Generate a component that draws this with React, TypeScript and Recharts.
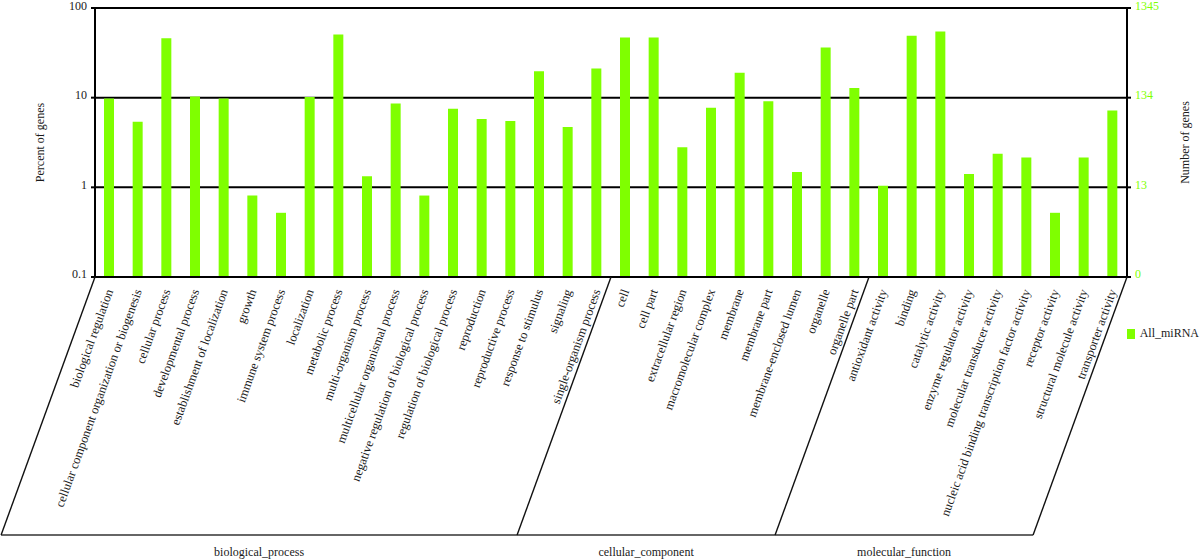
import React from 'react';
import { BarChart, Bar, XAxis, YAxis, CartesianGrid, Legend } from 'recharts';

const categories = [
  'biological regulation',
  'cellular component organization or biogenesis',
  'cellular process',
  'developmental process',
  'establishment of localization',
  'growth',
  'immune system process',
  'localization',
  'metabolic process',
  'multi-organism process',
  'multicellular organismal process',
  'negative regulation of biological process',
  'regulation of biological process',
  'reproduction',
  'reproductive process',
  'response to stimulus',
  'signaling',
  'single-organism process',
  'cell',
  'cell part',
  'extracellular region',
  'macromolecular complex',
  'membrane',
  'membrane part',
  'membrane-enclosed lumen',
  'organelle',
  'organelle part',
  'antioxidant activity',
  'binding',
  'catalytic activity',
  'enzyme regulator activity',
  'molecular transducer activity',
  'nucleic acid binding transcription factor activity',
  'receptor activity',
  'structural molecule activity',
  'transporter activity',
];

const percentValues = [
  9.8, 5.4, 46, 10.3, 9.8, 0.81, 0.52, 10.2, 50.6, 1.33, 8.6, 0.81, 7.5, 5.8, 5.5, 19.7, 4.7, 21.1,
  46.8, 46.8, 2.8, 7.7, 19.0, 9.1, 1.48, 36.2, 12.8,
  1.04, 48.9, 54.6, 1.41, 2.37, 2.15, 0.52, 2.15, 7.2,
];

const groupNames = ['biological_process', 'cellular_component', 'molecular_function'];
const groupSizes = [18, 9, 9];

const leftTicks = [0.1, 1, 10, 100];
const leftTickLabels = ['0.1', '1', '10', '100'];
const rightTickLabels = ['0', '13', '134', '1345'];

const seriesName = 'All_miRNA';
const leftTitle = 'Percent of genes';
const rightTitle = 'Number of genes';

const GREEN = '#7FFF00';
const FONT = "'Liberation Serif', 'Times New Roman', serif";
const TEXT = '#1a1a1a';

const data = categories.map((name, i) => ({ name, pct: percentValues[i] }));

const groupStarts: number[] = [];
groupSizes.reduce((acc, n) => {
  groupStarts.push(acc);
  return acc + n;
}, 0);

const SLANT_DEG = 70;
const BRACKET_DEPTH = 258;

function XTick(props: any) {
  const { x, y, payload } = props;
  const idx: number = payload.index;
  const half: number = payload.offset ?? 14.33;
  const dx = BRACKET_DEPTH / Math.tan((SLANT_DEG * Math.PI) / 180);
  const yB = y + BRACKET_DEPTH;
  const gi = groupStarts.indexOf(idx);
  const total = categories.length;
  return (
    <g>
      {idx === 0 && (
        <line
          x1={x - half - dx}
          x2={x - half - dx + 2 * half * total}
          y1={yB}
          y2={yB}
          stroke="#333"
          strokeWidth={1.5}
        />
      )}
      {gi >= 0 && (
        <line x1={x - half} y1={y} x2={x - half - dx} y2={yB} stroke="#111" strokeWidth={1.4} />
      )}
      {gi >= 0 && (
        <text
          x={x - half + groupSizes[gi] * half - dx}
          y={yB + 21}
          textAnchor="middle"
          fontFamily={FONT}
          fontSize={12}
          fill={TEXT}
        >
          {groupNames[gi]}
        </text>
      )}
      {idx === total - 1 && (
        <line x1={x + half} y1={y} x2={x + half - dx} y2={yB} stroke="#111" strokeWidth={1.4} />
      )}
      <text
        transform={`translate(${x + 4}, ${y + 14}) rotate(-${SLANT_DEG})`}
        textAnchor="end"
        fontFamily={FONT}
        fontSize={12.5}
        fill={TEXT}
      >
        {payload.value}
      </text>
    </g>
  );
}

function LeftTick(props: any) {
  const { x, y, payload } = props;
  const i = leftTicks.indexOf(payload.value);
  return (
    <text x={x} y={y - 3} dy="0.355em" textAnchor="end" fontFamily={FONT} fontSize={12} fill={TEXT}>
      {leftTickLabels[i]}
    </text>
  );
}

function RightTick(props: any) {
  const { x, y, payload } = props;
  const i = leftTicks.indexOf(payload.value);
  return (
    <text x={x} y={y - 3} dy="0.355em" textAnchor="start" fontFamily={FONT} fontSize={12} fill={GREEN}>
      {rightTickLabels[i]}
    </text>
  );
}

function AxisTitle(props: any) {
  const { viewBox, text, fromLeft } = props;
  if (!viewBox) return null;
  const cx = viewBox.x + fromLeft;
  const cy = viewBox.y + viewBox.height / 2;
  return (
    <text
      x={cx}
      y={cy}
      transform={`rotate(-90, ${cx}, ${cy})`}
      textAnchor="middle"
      dominantBaseline="central"
      fontFamily={FONT}
      fontSize={12}
      fill={TEXT}
    >
      {text}
    </text>
  );
}

function LegendContent() {
  return (
    <div style={{ display: 'flex', alignItems: 'center', fontFamily: FONT, fontSize: 12, color: TEXT }}>
      <span style={{ display: 'inline-block', width: 10, height: 10, background: GREEN, marginRight: 5 }} />
      <span>{seriesName}</span>
    </div>
  );
}

export default function App() {
  return (
    <div style={{ position: 'absolute', left: 0, top: 0, width: 1200, height: 560, background: '#fff' }}>
      <BarChart width={1200} height={560} data={data} margin={{ top: 8, right: 0, bottom: 0, left: 0 }}>
        <CartesianGrid yAxisId="left" vertical={false} stroke="#000" strokeWidth={2} />
        <XAxis
          dataKey="name"
          interval={0}
          height={283}
          tickSize={0}
          tickMargin={0}
          tickLine={false}
          axisLine={{ stroke: '#000', strokeWidth: 2 }}
          tick={<XTick />}
        />
        <YAxis
          yAxisId="left"
          scale="log"
          domain={[0.1, 100]}
          ticks={leftTicks}
          allowDataOverflow
          width={95}
          tickSize={4}
          tickMargin={4}
          axisLine={{ stroke: '#000', strokeWidth: 2 }}
          tickLine={{ stroke: '#000', strokeWidth: 2 }}
          tick={<LeftTick />}
          label={<AxisTitle text={leftTitle} fromLeft={40} />}
        />
        <YAxis
          yAxisId="right"
          orientation="right"
          scale="log"
          domain={[0.1, 100]}
          ticks={leftTicks}
          allowDataOverflow
          width={73}
          tickSize={4}
          tickMargin={4}
          axisLine={{ stroke: '#000', strokeWidth: 2 }}
          tickLine={{ stroke: '#000', strokeWidth: 2 }}
          tick={<RightTick />}
          label={<AxisTitle text={rightTitle} fromLeft={58} />}
        />
        <Legend
          layout="horizontal"
          verticalAlign="middle"
          align="center"
          wrapperStyle={{ left: 1127, top: 326, width: 72 }}
          content={<LegendContent />}
        />
        <Bar yAxisId="left" dataKey="pct" name={seriesName} fill={GREEN} barSize={10} isAnimationActive={false} />
      </BarChart>
    </div>
  );
}
